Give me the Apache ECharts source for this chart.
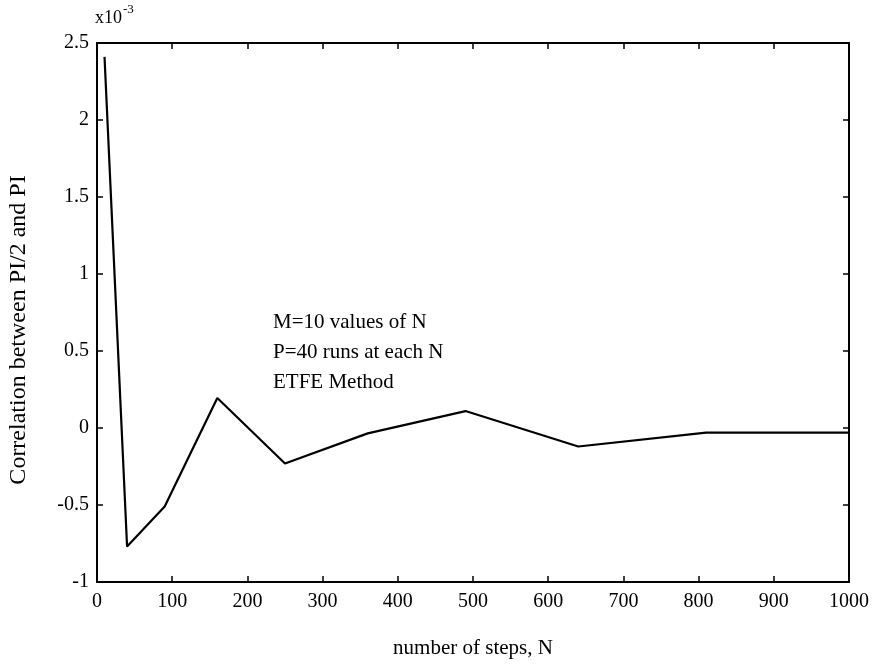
<!DOCTYPE html>
<html>
<head>
<meta charset="utf-8">
<script src="https://cdn.jsdelivr.net/npm/echarts@6/dist/echarts.min.js"></script>
<style>
html,body{margin:0;padding:0;background:#fff;}
#main{width:877px;height:664px;}
</style>
</head>
<body>
<div id="main"></div>
<script>
// number of steps N, and correlation (x10^-3)
var stepsN = [10, 40, 90, 160, 250, 360, 490, 640, 810, 1000];
var corrVals = [2.41, -0.77, -0.51, 0.195, -0.23, -0.035, 0.11, -0.12, -0.03, -0.03];
var noteLines = ['M=10 values of N', 'P=40 runs at each N', 'ETFE Method'];

var serif = '"Liberation Serif","DejaVu Serif",serif';
var myChart = echarts.init(document.getElementById('main'));

var pts = [];
for (var i = 0; i < stepsN.length; i++) {
	pts.push([stepsN[i], corrVals[i]]);
}

var lineSt = {color: '#000', width: 2};
var tickSt = {inside: true, length: 6, lineStyle: {color: '#000', width: 1.5}};

option = {
	animation: false,
	backgroundColor: '#fff',
	grid: {left: 97, right: 28, top: 43, bottom: 82, containLabel: false, outerBoundsMode: 'none'},
	xAxis: [
		{
			type: 'value', min: 0, max: 1000, interval: 100,
			axisLine: {show: true, onZero: false, lineStyle: lineSt},
			axisTick: tickSt,
			splitLine: {show: false},
			axisLabel: {color: '#000', fontFamily: serif, fontSize: 20, margin: 10,
				formatter: function (v) { return String(v); }},
			name: 'number of steps, N', nameLocation: 'middle', nameGap: 56,
			nameTextStyle: {color: '#000', fontFamily: serif, fontSize: 21}
		},
		{
			type: 'value', position: 'top', min: 0, max: 1000, interval: 100,
			axisLine: {show: true, onZero: false, lineStyle: lineSt},
			axisTick: tickSt,
			splitLine: {show: false},
			axisLabel: {show: false}
		}
	],
	yAxis: [
		{
			type: 'value', min: -1, max: 2.5, interval: 0.5,
			axisLine: {show: true, onZero: false, lineStyle: lineSt},
			axisTick: tickSt,
			splitLine: {show: false},
			axisLabel: {color: '#000', fontFamily: serif, fontSize: 20, margin: 8}
		},
		{
			type: 'value', position: 'right', min: -1, max: 2.5, interval: 0.5,
			axisLine: {show: true, onZero: false, lineStyle: lineSt},
			axisTick: tickSt,
			splitLine: {show: false},
			axisLabel: {show: false}
		}
	],
	graphic: [
		{type: 'text', left: 95, top: 9, style: {text: 'x10', fill: '#000', font: '18px ' + serif}},
		{type: 'text', left: 123, top: 3, style: {text: '-3', fill: '#000', font: '13px ' + serif}},
		{type: 'text', x: 19, y: 330, rotation: Math.PI / 2,
			style: {text: 'Correlation between PI/2 and PI', fill: '#000', font: '24px ' + serif,
				align: 'center', verticalAlign: 'middle'}},
		{type: 'text', left: 273, top: 312, style: {text: noteLines[0], fill: '#000', font: '21px ' + serif}},
		{type: 'text', left: 273, top: 342, style: {text: noteLines[1], fill: '#000', font: '21px ' + serif}},
		{type: 'text', left: 273, top: 372, style: {text: noteLines[2], fill: '#000', font: '21px ' + serif}}
	],
	series: [
		{
			type: 'line',
			data: pts,
			showSymbol: false,
			lineStyle: {color: '#000', width: 2.2},
			xAxisIndex: 0, yAxisIndex: 0
		}
	]
};

myChart.setOption(option);
window.onresize = myChart.resize;
</script>
</body>
</html>
